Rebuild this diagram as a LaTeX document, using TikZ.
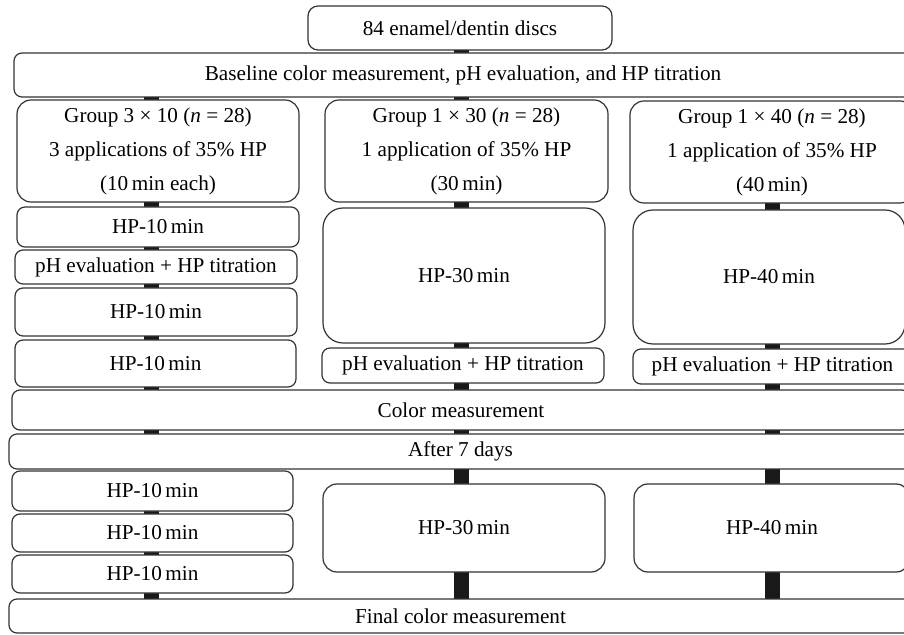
\documentclass[tikz,border=0pt]{standalone}
\usepackage{fontspec}
\setmainfont{Liberation Serif}
\usetikzlibrary{backgrounds}

\tikzset{
  stepbox/.style={
    draw=black!80, line width=0.6pt, fill=white, rounded corners=4pt,
    inner sep=0pt, outer sep=0pt, align=center,
    font=\fontsize{10.6}{17}\selectfont
  },
  groupbox/.style={stepbox, rounded corners=7pt},
  bigbox/.style={stepbox, rounded corners=10pt},
  widebox/.style={stepbox, rounded corners=4pt},
  bar/.style={line width=7.5pt, black!90}
}

\begin{document}
\begin{tikzpicture}[x=0.5pt, y=-0.5pt]
  \useasboundingbox (0,0) rectangle (904,635);
  \clip (0,0) rectangle (904,635);

  % column axes for the connector bars
  \coordinate (cA) at (151,0);
  \coordinate (cB) at (461,0);
  \coordinate (cC) at (772,0);

  \node[stepbox, rounded corners=5pt, minimum width=152pt, minimum height=22pt] (disc) at (460,28) {84 enamel/dentin discs};
  \node[widebox, minimum width=449pt, minimum height=22pt] (base) at (463,75) {Baseline color measurement, pH evaluation, and HP titration};

  % groups
  \node[groupbox, minimum width=141pt, minimum height=51pt] (gA) at (158,151) {Group 3 × 10 (\textit{n} = 28)\\3 applications of 35\% HP\\(10\,min each)};
  \node[groupbox, minimum width=141.5pt, minimum height=51pt] (gB) at (466.5,151) {Group 1 × 30 (\textit{n} = 28)\\1 application of 35\% HP\\(30\,min)};
  \node[groupbox, minimum width=142pt, minimum height=51pt] (gC) at (772,152) {Group 1 × 40 (\textit{n} = 28)\\1 application of 35\% HP\\(40\,min)};

  % first session
  \node[stepbox, minimum width=141pt, minimum height=20pt] (a1) at (158,227) {HP-10\,min};
  \node[stepbox, minimum width=141pt, minimum height=17pt] (a2) at (156,267) {pH evaluation + HP titration};
  \node[stepbox, minimum width=141pt, minimum height=24pt] (a3) at (156,312) {HP-10\,min};
  \node[stepbox, minimum width=140.5pt, minimum height=23.5pt] (a4) at (155.5,363.5) {HP-10\,min};
  \node[bigbox, minimum width=141pt, minimum height=67.5pt] (b1) at (464,275.5) {HP-30\,min};
  \node[stepbox, minimum width=141pt, minimum height=17.5pt] (b2) at (463,365.5) {pH evaluation + HP titration};
  \node[bigbox, minimum width=136pt, minimum height=67pt] (c1) at (769,277) {HP-40\,min};
  \node[stepbox, minimum width=139.5pt, minimum height=17.5pt] (c2) at (772.5,366.5) {pH evaluation + HP titration};

  \node[widebox, minimum width=449pt, minimum height=20pt] (color) at (461,410) {Color measurement};
  \node[widebox, minimum width=451.5pt, minimum height=17.5pt] (days) at (460.5,451.5) {After 7 days};

  % second session
  \node[stepbox, minimum width=140.5pt, minimum height=20pt] (d1) at (152.5,491) {HP-10\,min};
  \node[stepbox, minimum width=140.5pt, minimum height=19pt] (d2) at (152.5,533) {HP-10\,min};
  \node[stepbox, minimum width=140.5pt, minimum height=19pt] (d3) at (152.5,574) {HP-10\,min};
  \node[groupbox, minimum width=141pt, minimum height=44pt] (e) at (464,528) {HP-30\,min};
  \node[groupbox, minimum width=138pt, minimum height=44pt] (f) at (772,528) {HP-40\,min};

  \node[widebox, minimum width=451.5pt, minimum height=17pt] (final) at (460.5,616) {Final color measurement};

  % connector bars
  \begin{scope}[on background layer]
    \foreach \u/\v in {base/gA, gA/a1, a1/a2, a2/a3, a3/a4, a4/color, color/days, d1/d2, d2/d3, d3/final}
      \draw[bar] (\u.south -| cA) -- (\v.north -| cA);
    \foreach \u/\v in {disc/base, base/gB, gB/b1, b1/b2, b2/color, color/days, days/e, e/final}
      \draw[bar] (\u.south -| cB) -- (\v.north -| cB);
    \foreach \u/\v in {gC/c1, c1/c2, c2/color, color/days, days/f, f/final}
      \draw[bar] (\u.south -| cC) -- (\v.north -| cC);
  \end{scope}
\end{tikzpicture}
\end{document}
